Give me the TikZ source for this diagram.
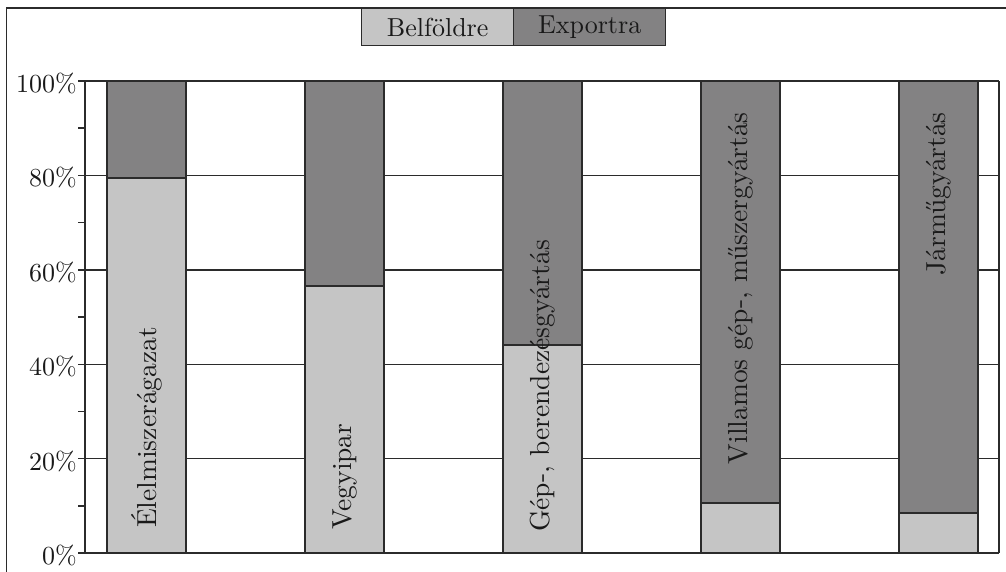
\documentclass[tikz,border=0pt]{standalone}
\usepackage{fontspec}
\setmainfont{lmroman10}[Extension=.otf,UprightFont=*-regular,BoldFont=*-bold,ItalicFont=*-italic,BoldItalicFont=*-bolditalic]
\definecolor{lightbar}{HTML}{C5C5C5}
\definecolor{darkbar}{HTML}{838283}
\definecolor{ink}{HTML}{2B2B2B}
\begin{document}
\begin{tikzpicture}[x=1pt,y=-1pt,
  rule/.style={draw=ink,line width=1.4pt},
  txt/.style={font=\fontsize{26}{32}\selectfont,text=black!90},
  barlabel/.style={font=\fontsize{27.5}{32}\selectfont,text=black!90,rotate=90,inner sep=0pt},
  legbox/.style={draw=ink,line width=1.4pt,minimum width=152pt,minimum height=37pt,anchor=north west,inner sep=0pt,txt}]
\useasboundingbox (0,0) rectangle (1006,572);
\fill[white] (0,0) rectangle (1006,572);
% outer frame (left and top)
\draw[rule] (6.5,572) -- (6.5,8) -- (1006,8);
% grid lines and ticks
\foreach \p in {0,20,40,60,80,100}{
  \draw[rule] (78,{553-4.72*\p}) -- (999,{553-4.72*\p});
}
\foreach \p in {10,30,50,70,90}{
  \draw[rule] (78,{553-4.72*\p}) -- (85,{553-4.72*\p});
}
\draw[rule] (85,81) -- (85,553);
\draw[rule] (999,81) -- (999,553);
% y labels
\node[txt,anchor=east,inner sep=0pt] (l0) at (77,555) {0\%};
\node[txt,anchor=east,inner sep=0pt] (l20) at (77,461) {20\%};
\node[txt,anchor=east,inner sep=0pt] (l40) at (77,366) {40\%};
\node[txt,anchor=east,inner sep=0pt] (l60) at (77,272) {60\%};
\node[txt,anchor=east,inner sep=0pt] (l80) at (77,177) {80\%};
\node[txt,anchor=east,inner sep=0pt] (l100) at (77,83) {100\%};
% bars
\foreach \x/\yb in {107/178, 305/286, 503/345, 701/503, 899/513}{
  \fill[lightbar] (\x,553) rectangle (\x+79,\yb);
  \fill[darkbar] (\x,\yb) rectangle (\x+79,81);
  \draw[rule] (\x,553) rectangle (\x+79,81);
  \draw[rule] (\x,\yb) -- (\x+79,\yb);
}
% bar labels
\node[barlabel,anchor=west] (b1) at (146.5,528) {Élelmiszerágazat};
\node[barlabel,anchor=west] (b2) at (344.5,530) {Vegyipar};
\node[barlabel,anchor=west] (b3) at (542.5,532) {Gép-, berendezésgyártás};
\node[barlabel,anchor=east] (b4) at (740.5,112) {Villamos gép-, műszergyártás};
\node[barlabel,anchor=east] (b5) at (938.5,112) {Járműgyártás};
% legend
\node[legbox,fill=lightbar] (leg1) at (361,8) {Belföldre};
\node[legbox,fill=darkbar] (leg2) at (513,8) {Exportra};
\end{tikzpicture}
\end{document}
